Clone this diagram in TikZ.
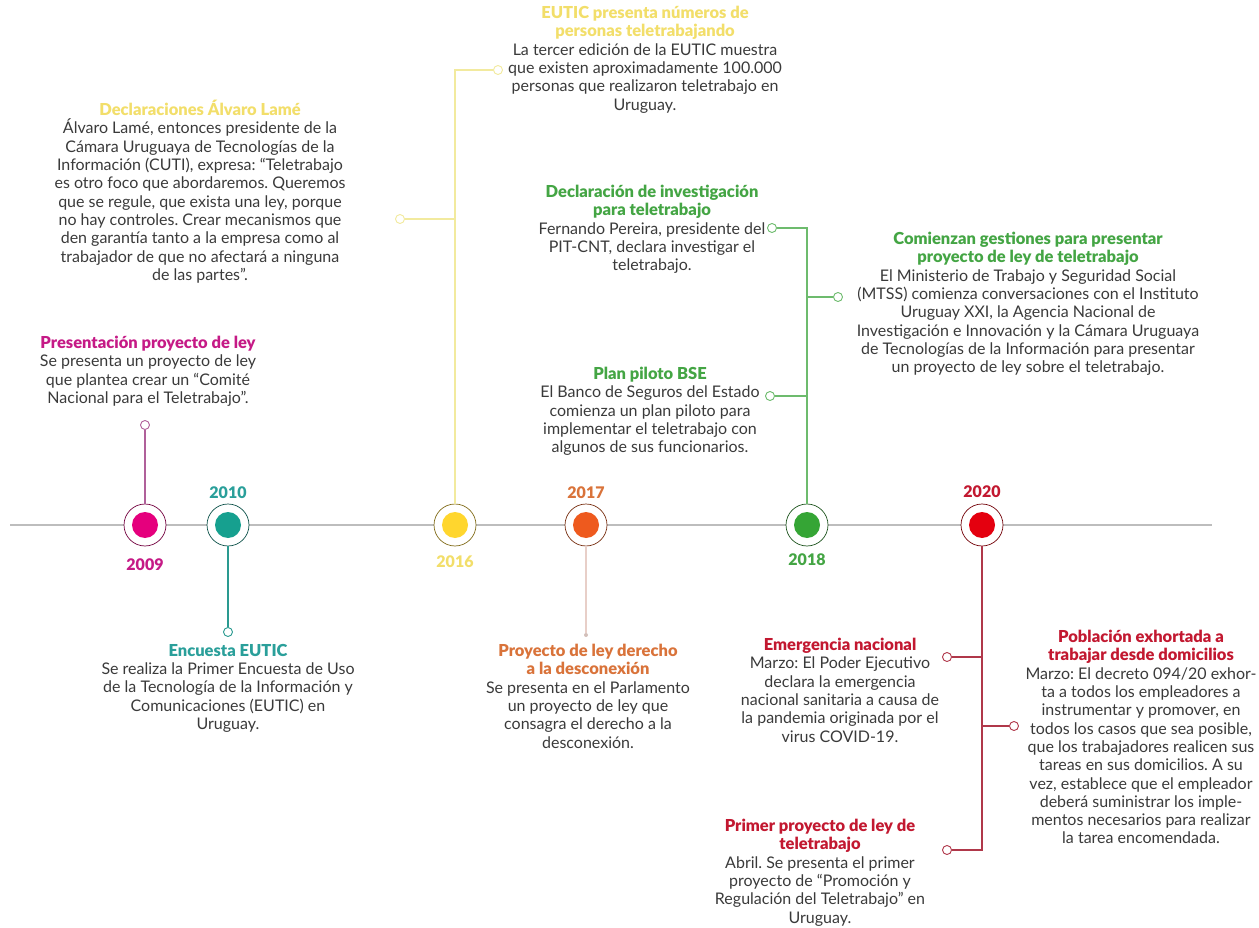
\documentclass[tikz,border=0pt]{standalone}
\usepackage{fontspec}
\setmainfont{Lato}
\newfontfamily\ttlfont{Lato Black}
\usepackage{xcolor}
\usepackage{tikz}
\usetikzlibrary{positioning,calc}
\frenchspacing
\definecolor{c09}{HTML}{E5007D}
\definecolor{c10}{HTML}{16A08F}
\definecolor{c16}{HTML}{FFD62E}
\definecolor{c17}{HTML}{EE5A1E}
\definecolor{c18}{HTML}{35A535}
\definecolor{c20}{HTML}{E4000F}
\definecolor{t09}{HTML}{C51A86}
\definecolor{t10}{HTML}{2A9F9A}
\definecolor{t16}{HTML}{F2DE6A}
\definecolor{t17}{HTML}{D9733A}
\definecolor{t18}{HTML}{44A544}
\definecolor{t20}{HTML}{C21830}
\definecolor{l09}{HTML}{B0609A}
\definecolor{l10}{HTML}{2A9A90}
\definecolor{l16}{HTML}{F2EA9E}
\definecolor{l17}{HTML}{E8CFC8}
\definecolor{l18}{HTML}{6DBB6D}
\definecolor{l20}{HTML}{B0384A}
\definecolor{axisgray}{HTML}{BDBDBD}
\definecolor{body}{HTML}{3A3A3A}
\tikzset{yr/.style={circle,draw=#1!50!black,line width=0.7pt,fill=white,minimum size=42pt,inner sep=0pt,
    path picture={\fill[#1] (path picture bounding box.center) circle (13pt);}},
  dot/.style={circle,draw=#1,line width=0.9pt,fill=white,minimum size=9pt,inner sep=0pt},
  stem/.style={draw=#1,line width=1.2pt},
  yrlab/.style={text=#1,font=\ttlfont\fontsize{16}{16}\selectfont},
  evt/.style={align=center,anchor=north,inner sep=0pt,text=body,font=\fontsize{16}{18.3}\selectfont}}
\tikzstyle{axis}=[draw=axisgray,line width=1.2pt]
\newcommand{\ttl}[2]{\textcolor{#1}{\ttlfont\fontsize{16.5}{18.3}\selectfont #2}}

\begin{document}
\begin{tikzpicture}[x=1pt,y=1pt]
    \useasboundingbox (0,-402) rectangle (1259,525);
    % eje
    \coordinate (ini) at (10,0);
    \coordinate (fin) at (1212,0);
    \draw[axis] (ini) -- (fin);
    % anios
    \node (y09) [yr=c09] at (145,0) {};
    \node (y10) [yr=c10,right of=y09,node distance=83pt] {};
    \node (y16) [yr=c16,right of=y10,node distance=227pt] {};
    \node (y17) [yr=c17,right of=y16,node distance=131pt] {};
    \node (y18) [yr=c18,right of=y17,node distance=221pt] {};
    \node (y20) [yr=c20,right of=y18,node distance=175pt] {};
    \node (l09) [yrlab=t09,below of=y09,node distance=40pt] {2009};
    \node (l10) [yrlab=t10,above of=y10,node distance=32pt] {2010};
    \node (l16) [yrlab=t16,below of=y16,node distance=37pt] {2016};
    \node (l17) [yrlab=t17,above of=y17,node distance=32pt] {2017};
    \node (l18) [yrlab=t18,below of=y18,node distance=35pt] {2018};
    \node (l20) [yrlab=t20,above of=y20,node distance=33pt] {2020};
    % extremos
    \node (p09) [dot=l09,above of=y09,node distance=100pt] {};
    \node (p10) [dot=l10,below of=y10,node distance=107pt] {};
    \node (p16a) [dot=l16] at (498,455) {};
    \node (p16b) [dot=l16] at (400,306) {};
    \node (p17) [circle,fill=l17!80!gray,inner sep=0pt,minimum size=4pt,below of=y17,node distance=110pt] {};
    \node (p18a) [dot=l18] at (772,297) {};
    \node (p18b) [dot=l18] at (838,228) {};
    \node (p18c) [dot=l18] at (770,129) {};
    \node (p20a) [dot=l20] at (947,-132) {};
    \node (p20b) [dot=l20] at (1014,-201) {};
    \node (p20c) [dot=l20] at (947,-325) {};
    \draw[stem=l09] (y09) -- (p09);
    \draw[stem=l10] (y10) -- (p10);
    \draw[stem=l16] (y16) |- (p16a);
    \draw[stem=l16] (p16b) -- (p16b -| y16);
    \draw[stem=l17] (y17) -- (p17);
    \draw[stem=l18] (y18) |- (p18a);
    \draw[stem=l18] (p18b) -- (p18b -| y18);
    \draw[stem=l18] (p18c) -- (p18c -| y18);
    \draw[stem=l20] (y20) |- (p20c);
    \draw[stem=l20] (p20a) -- (p20a -| y20);
    \draw[stem=l20] (p20b) -- (p20b -| y20);
    % textos
    \node (t09) [evt] at (148,189) {\ttl{t09}{Presentación proyecto de ley}\\
        Se presenta un proyecto de ley\\que plantea crear un “Comité\\Nacional para el Teletrabajo”.};
    \node (t10) [evt] at (228,-119) {\ttl{t10}{Encuesta EUTIC}\\
        Se realiza la Primer Encuesta de Uso\\de la Tecnología de la Información y\\Comunicaciones (EUTIC) en\\Uruguay.};
    \node (t16a) [evt] at (645,519) {\ttl{t16}{EUTIC presenta números de}\\\ttl{t16}{personas teletrabajando}\\
        La tercer edición de la EUTIC muestra\\que existen aproximadamente 100.000\\personas que realizaron teletrabajo en\\Uruguay.};
    \node (t16b) [evt] at (200,425) {\ttl{t16}{Declaraciones Álvaro Lamé}\\
        Álvaro Lamé, entonces presidente de la\\Cámara Uruguaya de Tecnologías de la\\Información (CUTI), expresa: “Teletrabajo\\
        es otro foco que abordaremos. Queremos\\que se regule, que exista una ley, porque\\no hay controles. Crear mecanismos que\\
        den garantía tanto a la empresa como al\\trabajador de que no afectará a ninguna\\de las partes”.};
    \node (t17) [evt] at (588,-119) {\ttl{t17}{Proyecto de ley derecho}\\\ttl{t17}{a la desconexión}\\
        Se presenta en el Parlamento\\un proyecto de ley que\\consagra el derecho a la\\desconexión.};
    \node (t18a) [evt] at (652,340) {\ttl{t18}{Declaración de investigación}\\\ttl{t18}{para teletrabajo}\\
        Fernando Pereira, presidente del\\PIT-CNT, declara investigar el\\teletrabajo.};
    \node (t18b) [evt] at (1028,293) {\ttl{t18}{Comienzan gestiones para presentar}\\\ttl{t18}{proyecto de ley de teletrabajo}\\
        El Ministerio de Trabajo y Seguridad Social\\(MTSS) comienza conversaciones con el Instituto\\Uruguay XXI, la Agencia Nacional de\\
        Investigación e Innovación y la Cámara Uruguaya\\de Tecnologías de la Información para presentar\\un proyecto de ley sobre el teletrabajo.};
    \node (t18c) [evt] at (650,158) {\ttl{t18}{Plan piloto BSE}\\
        El Banco de Seguros del Estado\\comienza un plan piloto para\\implementar el teletrabajo con\\algunos de sus funcionarios.};
    \node (t20a) [evt] at (840,-113) {\ttl{t20}{Emergencia nacional}\\
        Marzo: El Poder Ejecutivo\\declara la emergencia\\nacional sanitaria a causa de\\la pandemia originada por el\\virus COVID-19.};
    \node (t20b) [evt] at (1141,-105) {\ttl{t20}{Población exhortada a}\\\ttl{t20}{trabajar desde domicilios}\\
        Marzo: El decreto 094/20 exhor-\\ta a todos los empleadores a\\instrumentar y promover, en\\todos los casos que sea posible,\\
        que los trabajadores realicen sus\\tareas en sus domicilios. A su\\vez, establece que el empleador\\deberá suministrar los imple-\\
        mentos necesarios para realizar\\la tarea encomendada.};
    \node (t20c) [evt] at (820,-294) {\ttl{t20}{Primer proyecto de ley de}\\\ttl{t20}{teletrabajo}\\
        Abril. Se presenta el primer\\proyecto de “Promoción y\\Regulación del Teletrabajo” en\\Uruguay.};
\end{tikzpicture}
\end{document}
